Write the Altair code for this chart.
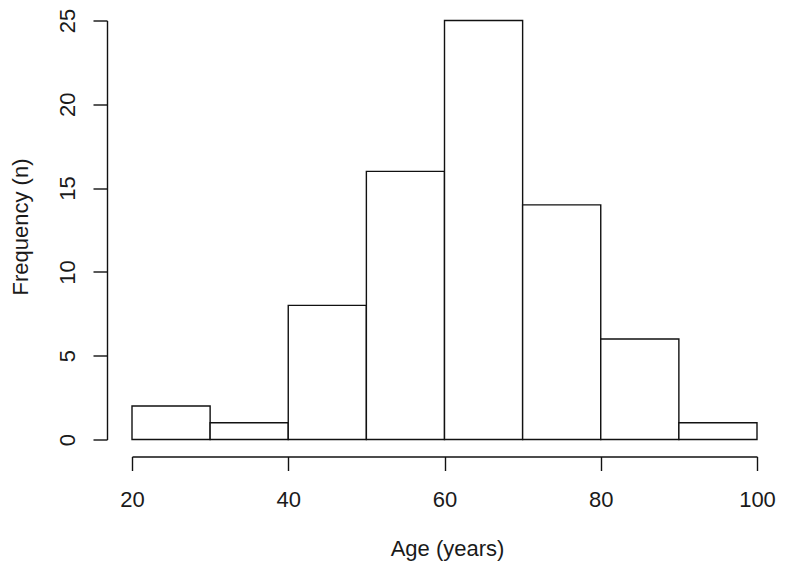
import altair as alt
import pandas as pd

bin_start = [20, 30, 40, 50, 60, 70, 80, 90]
bin_end = [30, 40, 50, 60, 70, 80, 90, 100]
counts = [2, 1, 8, 16, 25, 14, 6, 1]
x_ticks = [20, 40, 60, 80, 100]
y_ticks = [0, 5, 10, 15, 20, 25]

df = pd.DataFrame({"start": bin_start, "end": bin_end, "count": counts, "base": [0] * len(counts)})

FONT = "Liberation Sans"
FS = 22

x_scale = alt.Scale(domain=[20, 100], nice=False, zero=False)
y_scale = alt.Scale(domain=[0, 25], nice=False, zero=False)

chart = alt.Chart(df).mark_rect(fill="white", stroke="#111111", strokeWidth=1.4).encode(
    x=alt.X("start:Q", scale=x_scale,
            axis=alt.Axis(values=x_ticks, format="d", title="Age (years)", offset=17,
                          grid=False, tickSize=14, labelPadding=36, labelBaseline="alphabetic",
                          labelFlush=False, labelOverlap=False,
                          titleY=99, titleX=315, titleBaseline="alphabetic", titleAlign="center")),
    x2="end:Q",
    y=alt.Y("base:Q", scale=y_scale,
            axis=alt.Axis(values=y_ticks, format="d", title="Frequency (n)", offset=25,
                          grid=False, tickSize=14, labelPadding=19, labelAngle=270,
                          labelAlign="center", labelBaseline="alphabetic",
                          labelFlush=False, labelOverlap=False,
                          titleAngle=270, titleX=-80, titleY=206,
                          titleBaseline="alphabetic", titleAlign="center")),
    y2="count:Q",
).properties(
    width=625,
    height=419,
    background="white",
    autosize=alt.AutoSizeParams(type="none"),
    padding={"left": 124, "top": 12.5, "right": 22, "bottom": 121.5},
).configure_view(
    stroke=None
).configure_axis(
    domainColor="#111111", domainWidth=1.4, tickColor="#111111", tickWidth=1.4,
    labelFont=FONT, labelFontSize=FS, labelColor="#1a1a1a",
    titleFont=FONT, titleFontSize=FS, titleColor="#1a1a1a", titleFontWeight="normal",
)

chart.save("out.html", embed_options={"renderer": "svg", "actions": False})
